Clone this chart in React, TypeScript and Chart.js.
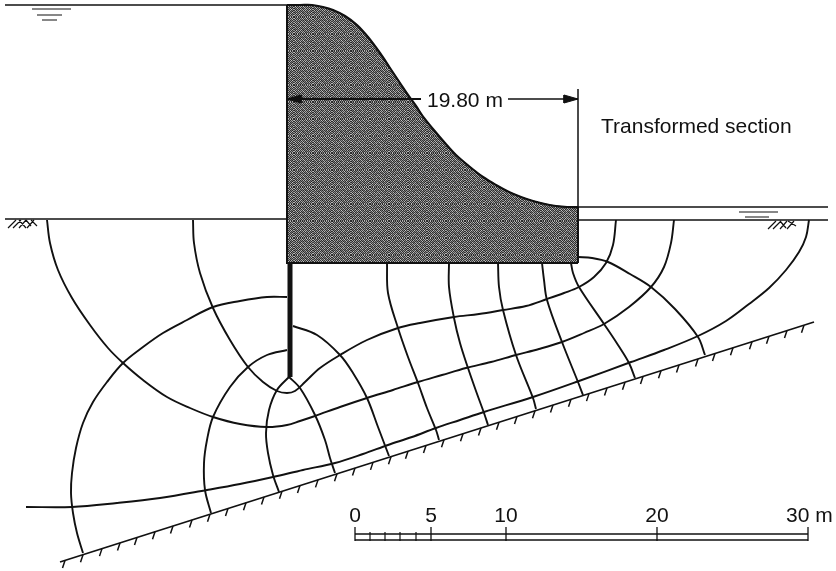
import React, { useEffect, useRef } from "react";
import { Chart, registerables } from "chart.js";

Chart.register(...registerables);

type P = [number, number];

// Digitised geometry of the figure (data units of the hidden linear axes)
const structureOutline: P[] = [[287,5],[300,5],[312,5],[323,7],[333,10],[345,16],[357,25],[368,37],[380,53],[390,68],[400,83],[408,95],[416,106],[424,118],[433,129],[445,143],[456,155],[470,167],[483,177],[496,185],[509,192],[521,197],[533,201],[545,204],[556,206],[567,207],[578,207],[578,263],[287,263],[287,5]];
const damFace: P[] = [[287,5],[300,5],[312,5],[323,7],[333,10],[345,16],[357,25],[368,37],[380,53],[390,68],[400,83],[408,95],[416,106],[424,118],[433,129],[445,143],[456,155],[470,167],[483,177],[496,185],[509,192],[521,197],[533,201],[545,204],[556,206],[567,207],[578,207]];
const structureEdge: P[] = [[287,5],[287,263],[578,263]];

const upstreamWater: P[] = [[5,5],[287,5]];
const upstreamGround: P[] = [[5,219],[287,219]];
const downstreamWater: P[] = [[578,207],[828,207]];
const downstreamGround: P[] = [[578,220],[828,220]];
const sectionLimit: P[] = [[578,89],[578,263]];
const sheetPile: P[] = [[290,263],[290,377]];
const dimLeft: P[] = [[287,99],[421,99]];
const dimRight: P[] = [[508,99],[578,99]];
const headLeft: P[] = [[287,99],[301,95],[301,103],[287,99]];
const headRight: P[] = [[578,99],[564,95],[564,103],[578,99]];

const flowA: P[] = [[287,297],[267,297],[240,301],[213,307],[187,320],[163,333],[143,347],[123,363],[107,382],[93,402],[83,423],[76,448],[72,473],[71,493],[73,513],[77,533],[83,553]];
const flowB: P[] = [[287,350],[267,355],[248,367],[230,387],[213,417],[207,440],[204,463],[205,490],[211,513]];
const flowC: P[] = [[289,377],[277,390],[269,410],[266,433],[268,453],[273,475],[279,492]];
const flowD: P[] = [[289,377],[300,388],[315,415],[325,440],[330,458],[335,473]];
const flowE: P[] = [[293,326],[317,335],[340,355],[353,373],[367,398],[378,427],[389,456]];
const flowF: P[] = [[387,263],[388,293],[398,328],[408,357],[418,383],[427,408],[436,430],[439,440]];
const flowG: P[] = [[449,263],[449,287],[454,318],[460,343],[468,368],[476,391],[484,413],[488,425]];
const flowH: P[] = [[498,263],[499,287],[503,310],[516,355],[533,398],[536,409]];
const flowI: P[] = [[542,263],[544,280],[547,300],[562,342],[578,382],[583,395]];
const flowJ: P[] = [[571,263],[573,273],[579,287],[604,324],[618,345],[629,363],[635,378]];
const flowK: P[] = [[578,257],[592,258],[608,262],[630,274],[651,287],[675,309],[698,337],[705,355]];

const potentialA: P[] = [[47,220],[50,243],[58,270],[72,298],[90,325],[108,348],[123,363],[143,380],[167,397],[190,408],[213,417],[240,424],[267,427],[287,425],[300,421],[315,416],[340,407],[367,398],[393,390],[418,382],[442,375],[466,368],[491,362],[516,355],[539,349],[562,342],[584,333],[604,324],[629,307],[651,287],[664,267],[671,243],[674,220]];
const potentialB: P[] = [[193,220],[194,243],[200,273],[213,308],[230,340],[248,367],[263,382],[277,391],[287,393],[295,391],[305,382],[320,368],[340,355],[367,340],[398,328],[420,323],[454,317],[479,314],[503,310],[526,306],[547,299],[564,293],[579,287],[594,277],[606,263],[613,245],[616,220]];
const potentialC: P[] = [[26,507],[72,507],[117,503],[160,498],[207,490],[240,484],[273,477],[303,470],[335,463],[363,454],[388,445],[412,437],[436,428],[460,420],[484,412],[533,397],[579,381],[631,362],[664,350],[698,336],[726,321],[749,304],[769,288],[786,270],[799,252],[806,237],[809,220]];

const imperviousBase: P[] = [[60,562],[814,322]];
const hatchX = [65,83,102,120,137,155,173,192,210,228,246,264,282,300,318,337,355,373,391,408,426,444,463,481,499,517,535,553,571,589,607,625,643,661,679,698,715,733,752,769,787,804];

const waterLeft: P[][] = [[[32,9],[71,9]],[[37,15],[62,15]],[[42,20],[57,20]]];
const waterRight: P[][] = [[[739,212],[778,212]],[[745,217],[769,217]]];
const soilLeft: P[][] = [[[8,228],[16,220]],[[13,228],[21,220]],[[19,228],[26,220]],[[19,220],[26,228]],[[27,228],[34,220]],[[26,220],[31,226]],[[31,220],[37,226]]];
const soilRight: P[][] = [[[768,229],[776,221]],[[773,229],[781,221]],[[780,229],[787,221]],[[780,221],[786,228]],[[787,229],[794,221]],[[788,221],[796,226]]];

const scaleTop: P[] = [[355,534],[808,534]];
const scaleBottom: P[] = [[355,540],[808,540]];
const majorTicksX = [355,431,506,657,808];
const minorTicksX = [370,385,400,416];
const majorTop = 527;
const minorTop = 532;
const tickBottom = 541;

const scaleLabels: [string, number][] = [["0",355],["5",431],["10",506],["20",657]];
const scaleEndLabel: [string, number] = ["30 m",786];
const annotations: [string, number, number][] = [["19.80 m",427,107],["Transformed section",601,133]];

// Halftone cell for the section's fill
const halftone = [
  [48,176,42,150,60,190,36,140],
  [165,54,198,38,132,46,168,70],
  [40,128,60,172,44,150,58,184],
  [150,36,116,52,186,40,126,44],
  [62,192,44,136,56,120,48,160],
  [138,50,170,48,146,36,178,52],
  [46,120,40,182,42,158,60,130],
  [180,66,142,56,124,50,112,40],
];

function pts(list: P[]) {
  return list.map(([x, y]) => ({ x, y }));
}
function segments(list: P[][]) {
  const out: ({ x: number; y: number } | { x: number; y: null })[] = [];
  list.forEach((s) => {
    out.push(...pts(s));
    out.push({ x: s[1][0], y: null });
  });
  return out;
}
function makePattern(): CanvasPattern | string {
  const c = document.createElement("canvas");
  const size = halftone.length;
  c.width = size * 2 + 3;
  c.height = size * 2 + 1;
  const g = c.getContext("2d");
  if (!g) return "#666";
  for (let y = 0; y < c.height; y++) {
    for (let x = 0; x < c.width; x++) {
      const v = halftone[(y + (x > size ? 3 : 0)) % size][(y > size ? size * 2 - x + size : x) % size];
      g.fillStyle = `rgb(${v},${v},${v})`;
      g.fillRect(x, y, 1, 1);
    }
  }
  return g.createPattern(c, "repeat") || "#666";
}

const INK = "#111111";

export default function App() {
  const ref = useRef<HTMLCanvasElement>(null);
  useEffect(() => {
    if (!ref.current) return;
    const curve = (data: P[], width = 1.9) => ({
      data: pts(data), borderColor: INK, borderWidth: width, tension: 0.35, showLine: true, pointRadius: 0, fill: false,
    });
    const straight = (data: any[], width = 1.5) => ({
      data, borderColor: INK, borderWidth: width, tension: 0, showLine: true, pointRadius: 0, fill: false, spanGaps: false,
    });
    const solid = (data: P[], bg: any) => ({
      data: pts(data), borderColor: INK, borderWidth: 1, backgroundColor: bg, tension: 0, showLine: true, pointRadius: 0, fill: "shape",
    });

    const [[bx0, by0], [bx1, by1]] = imperviousBase;
    const baseY = (x: number) => by0 + ((by1 - by0) * (x - bx0)) / (bx1 - bx0);
    const hatch: P[][] = hatchX.map((x) => [[x, baseY(x)], [x - 2.5, baseY(x) + 7.5]]);
    const majors: P[][] = majorTicksX.map((x) => [[x, majorTop], [x, tickBottom]]);
    const minors: P[][] = minorTicksX.map((x) => [[x, minorTop], [x, tickBottom]]);

    const textPlugin = {
      id: "figureText",
      afterDatasetsDraw(chart: any) {
        const { ctx, scales } = chart;
        ctx.save();
        ctx.fillStyle = INK;
        ctx.font = '21px "Liberation Sans"';
        ctx.textBaseline = "alphabetic";
        ctx.textAlign = "left";
        annotations.forEach(([t, x, y]) => {
          ctx.fillText(t, scales.x.getPixelForValue(x), scales.y.getPixelForValue(y));
        });
        const py = scales.y.getPixelForValue(522);
        ctx.fillText(scaleEndLabel[0], scales.x.getPixelForValue(scaleEndLabel[1]), py);
        ctx.textAlign = "center";
        scaleLabels.forEach(([t, x]) => {
          ctx.fillText(t, scales.x.getPixelForValue(x), py);
        });
        ctx.restore();
      },
    };

    // Chart.js paints the first dataset last, so the list runs from top mark to bottom mark
    const chart = new Chart(ref.current, {
      type: "scatter",
      data: {
        datasets: [
          solid(headLeft, INK),
          solid(headRight, INK),
          straight(pts(dimLeft), 2),
          straight(pts(dimRight), 1.5),
          straight(pts(sheetPile), 5),
          curve(flowA), curve(flowB), curve(flowC), curve(flowD), curve(flowE), curve(flowF),
          curve(flowG), curve(flowH), curve(flowI), curve(flowJ), curve(flowK),
          curve(potentialA), curve(potentialB), curve(potentialC),
          straight(pts(imperviousBase), 1.7),
          straight(segments(hatch), 1.5),
          straight(segments(waterLeft), 1.2),
          straight(segments(waterRight), 1.2),
          straight(segments(soilLeft), 1.2),
          straight(segments(soilRight), 1.2),
          straight(pts(scaleTop), 1.3),
          straight(pts(scaleBottom), 1.3),
          straight(segments(majors), 1.3),
          straight(segments(minors), 1.2),
          straight(pts(upstreamWater)),
          straight(pts(upstreamGround), 1.7),
          straight(pts(downstreamWater)),
          straight(pts(downstreamGround)),
          straight(pts(sectionLimit), 1.5),
          straight(pts(structureEdge), 2),
          curve(damFace, 2.2),
          solid(structureOutline, makePattern()),
        ] as any,
      },
      options: {
        animation: false,
        responsive: false,
        layout: { padding: 0 },
        plugins: { legend: { display: false }, tooltip: { enabled: false } },
        scales: {
          x: { type: "linear", min: 0, max: 836, display: false },
          y: { type: "linear", min: 0, max: 571, reverse: true, display: false },
        },
      },
      plugins: [textPlugin],
    });
    return () => chart.destroy();
  }, []);
  return (
    <canvas
      ref={ref}
      width={836}
      height={571}
      style={{ position: "absolute", left: 0, top: 0, width: 836, height: 571, display: "block", background: "#fff" }}
    />
  );
}
